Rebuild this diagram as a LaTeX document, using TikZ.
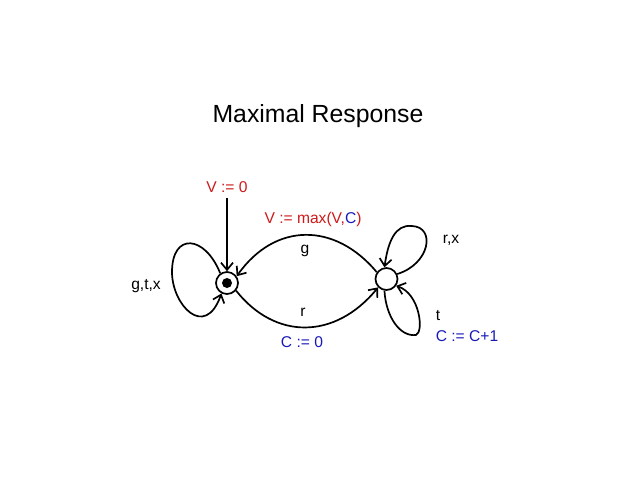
\documentclass[tikz,border=0pt]{standalone}
\usepackage{fontspec}
\setmainfont{Liberation Sans}
\usepackage{tikz}
\usetikzlibrary{arrows.meta}
\definecolor{asgred}{RGB}{205,25,25}
\definecolor{asgblue}{RGB}{25,25,185}

\begin{document}
\begin{tikzpicture}[
  x=0.5pt, y=-0.5pt,
  every node/.style={font=\fontsize{7.8}{9}\selectfont},
  state/.style={circle, draw, line width=0.85pt, minimum size=11pt, inner sep=0pt},
  dotmark/.style={circle, fill, minimum size=5pt, inner sep=0pt},
  edge/.style={-{Straight Barb[length=3.6pt,width=6pt]}, line width=0.85pt},
  assign/.style={text=asgred},
  reset/.style={text=asgblue}
]
\useasboundingbox (0,0) rectangle (638,479);

% Title.
\node[font=\fontsize{12.4}{15}\selectfont] (title) at (318,116) {Maximal Response};

% States.
\node[state] (s0) at (227,283) {};
\node[dotmark] (s0dot) at (s0) {};
\node[state] (s1) at (386.5,279) {};

% Initial arrow.
\coordinate (init) at (227,198);
\node[assign] (initlbl) at (227,187) {V := 0};
\draw[edge] (init) -- (s0.north);

% Self loop on the initial state.
\draw[edge] (s0.125) .. controls (205,235) and (172,232) .. (172,272)
  .. controls (172,305) and (205,340) .. (s0.-118);
\node (loop0) at (146,286) {g,t,x};

% g from s1 back to s0.
\draw[edge] (s1.145) .. controls (335,222) and (275,222) .. (s0.35);
\node (glbl) at (305,251) {g};
\node[assign] (gact) at (313,219) {V := max(V,{\color{asgblue}C})};

% r from s0 to s1.
\draw[edge] (s0.-40) .. controls (275,340) and (335,340) .. (s1.-135);
\node (rlbl) at (303,312) {r};
\node[reset] (ract) at (302,342) {C := 0};

% Loops on the second state.
\draw[edge] (s1.25) .. controls (430,264) and (436,227) .. (412,226)
  .. controls (395,224) and (388,242) .. (s1.100);
\node (loop1) at (451,240) {r,x};
\draw[edge] (s1.-100) .. controls (386,317) and (400,337) .. (416,335)
  .. controls (424,332) and (420,294) .. (s1.-35);
\node (tlbl) at (438,316) {t};
\node[reset] (tact) at (467,336) {C := C+1};
\end{tikzpicture}
\end{document}
